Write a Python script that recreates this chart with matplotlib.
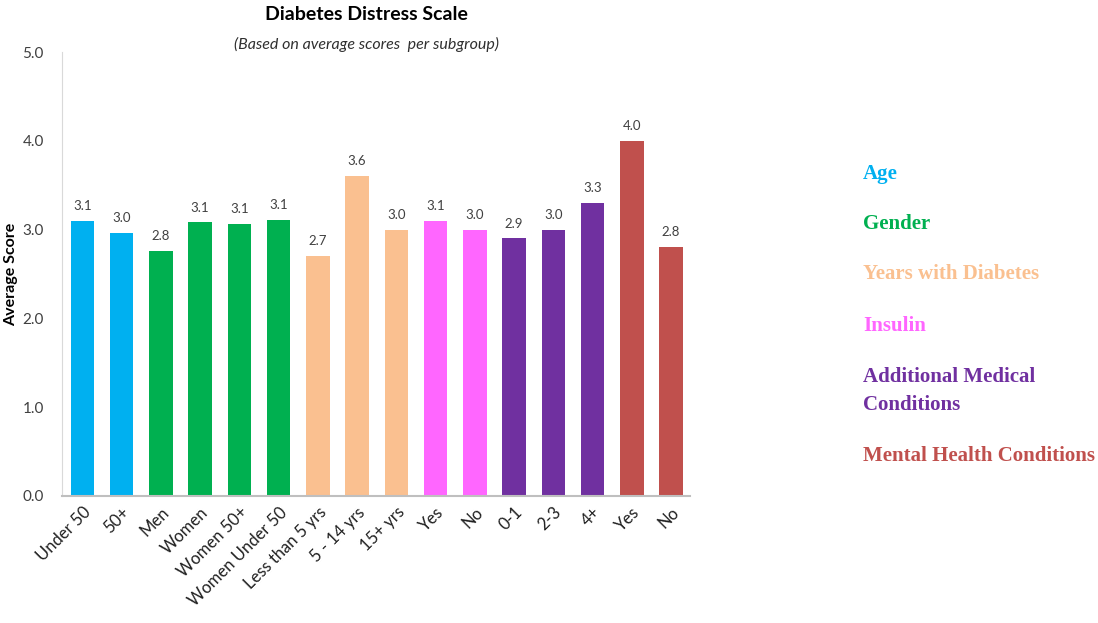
import numpy as np
import matplotlib
matplotlib.use("Agg")
import matplotlib.pyplot as plt

# data
categories = ["Under 50", "50+", "Men", "Women", "Women 50+", "Women Under 50",
              "Less than 5 yrs", "5 - 14 yrs", "15+ yrs", "Yes", "No",
              "0-1", "2-3", "4+", "Yes", "No"]
scores = [3.10, 2.96, 2.76, 3.08, 3.06, 3.11,
          2.70, 3.60, 3.00, 3.10, 3.00,
          2.90, 3.00, 3.30, 4.00, 2.80]
groups = ["Age", "Gender", "Years with Diabetes", "Insulin",
          "Additional Medical\nConditions", "Mental Health Conditions"]
group_sizes = [2, 4, 3, 2, 3, 2]
group_colors = ["#00B0F0", "#00B050", "#FAC090", "#FF66FF", "#7030A0", "#C0504D"]

bar_colors = []
for c, n in zip(group_colors, group_sizes):
    bar_colors += [c] * n

plt.rcParams['font.family'] = ['Lato', 'DejaVu Sans']

fig = plt.figure(figsize=(10.98, 6.23), dpi=100)
ax = fig.add_axes([0.0565, 0.204, 0.5715, 0.7125])

x = np.arange(len(categories))
bars = ax.bar(x, scores, width=0.6, color=bar_colors)

for xi, v in zip(x, scores):
    ax.text(xi, v + 0.1, f"{v:.1f}", ha="center", va="bottom",
            fontsize=9.5, color="#404040")

ax.set_xlim(-0.52, 15.47)
ax.set_ylim(0, 5)
ax.set_yticks(np.arange(0, 5.1, 1.0))
ax.set_yticklabels([f"{t:.1f}" for t in np.arange(0, 5.1, 1.0)],
                   fontsize=11, color="#404040")
ax.set_xticks(x)
ax.set_xticklabels(categories, rotation=45, ha="right", rotation_mode="anchor",
                   fontsize=12, color="#202020")
ax.tick_params(length=0, pad=6)
ax.tick_params(axis="y", pad=13)
for s in ["top", "right"]:
    ax.spines[s].set_visible(False)
ax.spines["left"].set_color("#D9D9D9")
ax.spines["bottom"].set_color("#BFBFBF")
ax.spines["bottom"].set_linewidth(1.5)

ax.set_ylabel("Average Score", fontsize=11.5, fontweight="bold", labelpad=3)

fig.text(0.334, 0.977, "Diabetes Distress Scale", ha="center", va="center",
         fontsize=14, fontweight="bold")
fig.text(0.334, 0.928, "(Based on average scores  per subgroup)", ha="center",
         va="center", fontsize=11.5, style="italic", color="#303030")

legend_y = [174, 224, 274, 326, 391, 456]
for name, c, yp in zip(groups, group_colors, legend_y):
    fig.text(0.786, 1 - yp / 623, name, ha="left", va="center",
             fontsize=15, fontweight="bold", color=c,
             family=["Liberation Serif"], linespacing=1.6)

fig.savefig("out.png", dpi=100)
